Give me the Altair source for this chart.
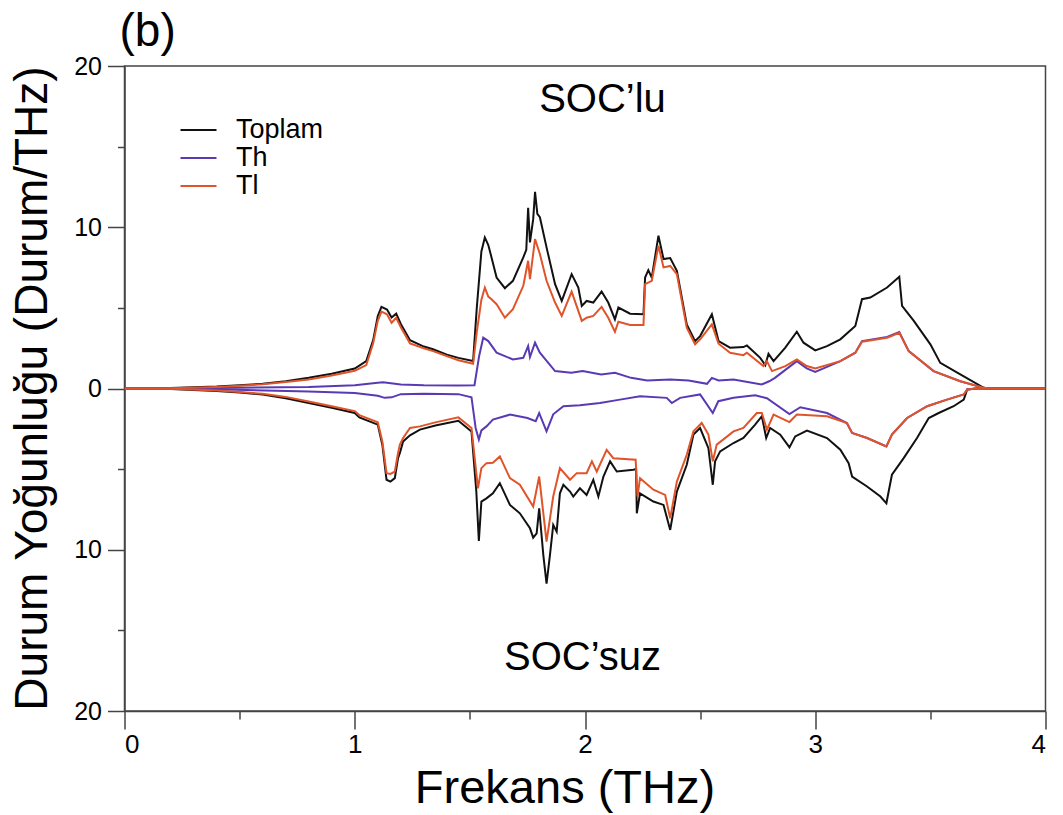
import altair as alt
import pandas as pd

# Phonon density of states of ThTl: upper half with spin-orbit coupling,
# lower half without (drawn mirrored below zero).

# ---- SOC'lu (with SOC), upper half ----
soc_total_f = [0, 0.2, 0.4, 0.5, 0.6, 0.7, 0.8, 0.9, 1.0, 1.05, 1.08, 1.10, 1.116, 1.14, 1.16, 1.18, 1.20,
               1.24, 1.30, 1.34, 1.40, 1.45, 1.514, 1.53, 1.55, 1.565, 1.58, 1.594, 1.616, 1.652, 1.687,
               1.732, 1.745, 1.753, 1.761, 1.775, 1.783, 1.793, 1.804, 1.833, 1.87, 1.899, 1.942, 1.971,
               1.986, 2.007, 2.036, 2.072, 2.101, 2.13, 2.145, 2.196, 2.254, 2.261, 2.275, 2.29, 2.319,
               2.341, 2.37, 2.399, 2.442, 2.478, 2.50, 2.551, 2.58, 2.63, 2.688, 2.703, 2.761, 2.783,
               2.797, 2.819, 2.87, 2.92, 2.949, 3.0, 3.051, 3.109, 3.174, 3.203, 3.239, 3.312, 3.365,
               3.377, 3.428, 3.5, 3.543, 3.63, 3.732, 3.75, 4.0]
soc_total_v = [0, 0.03, 0.12, 0.2, 0.3, 0.45, 0.66, 0.92, 1.24, 1.7, 3.0, 4.5, 5.06, 4.9, 4.4, 4.64, 4.0,
               3.0, 2.6, 2.43, 2.1, 1.9, 1.70, 5.0, 8.5, 9.37, 8.9, 8.13, 6.88, 6.22, 6.68,
               8.13, 8.6, 11.2, 9.06, 10.5, 12.2, 10.83, 10.62, 8.75, 6.47, 5.43, 7.09, 6.26,
               5.12, 5.43, 5.33, 6.01, 5.33, 4.29, 5.02, 4.64, 4.60, 6.88, 7.34, 6.88, 9.48,
               8.03, 8.09, 7.30, 3.98, 2.94, 3.25, 4.6, 2.94, 2.53, 2.57, 2.67, 1.90, 1.45,
               2.15, 1.70, 2.53, 3.52, 2.84, 2.36, 2.63, 3.05, 3.88, 5.54, 5.64, 6.26, 6.93,
               5.12, 4.19, 2.74, 1.59, 0.87, 0.04, 0, 0]

soc_th_f = [0, 0.4, 0.8, 1.0, 1.1, 1.123, 1.2, 1.3, 1.45, 1.52, 1.54, 1.558, 1.58, 1.616, 1.687, 1.732,
            1.753, 1.761, 1.783, 1.804, 1.87, 1.94, 1.99, 2.07, 2.13, 2.2, 2.27, 2.37, 2.45, 2.53, 2.551,
            2.58, 2.645, 2.767, 2.8, 2.825, 2.92, 2.963, 3.0, 3.109, 3.174, 3.203, 3.312, 3.365, 3.406,
            3.514, 3.63, 3.732, 3.75, 4.0]
soc_th_v = [0, 0.03, 0.1, 0.2, 0.35, 0.39, 0.25, 0.2, 0.18, 0.2, 2.0, 3.15, 2.94, 2.22, 1.80, 1.90,
            2.63, 1.95, 2.84, 2.22, 1.08, 0.97, 1.08, 0.87, 0.97, 0.66, 0.50, 0.56, 0.5, 0.29, 0.66,
            0.5, 0.56, 0.25, 0.45, 0.66, 1.70, 1.25, 1.03, 1.70, 2.22, 2.94, 3.2, 3.50, 2.32,
            1.08, 0.45, 0.04, 0, 0]

soc_tl_f = [0, 0.2, 0.4, 0.5, 0.6, 0.7, 0.8, 0.9, 1.0, 1.05, 1.08, 1.10, 1.116, 1.14, 1.16, 1.18, 1.20,
            1.24, 1.30, 1.34, 1.45, 1.514, 1.53, 1.55, 1.565, 1.58, 1.594, 1.616, 1.652, 1.687, 1.732,
            1.753, 1.761, 1.783, 1.804, 1.833, 1.87, 1.899, 1.942, 1.986, 2.007, 2.036, 2.072, 2.101,
            2.13, 2.145, 2.196, 2.254, 2.261, 2.29, 2.319, 2.341, 2.37, 2.399, 2.442, 2.478, 2.50,
            2.551, 2.58, 2.63, 2.688, 2.703, 2.775, 2.79, 2.812, 2.87, 2.92, 2.963, 3.0, 3.109, 3.174,
            3.203, 3.312, 3.365, 3.406, 3.514, 3.63, 3.732, 3.75, 4.0]
soc_tl_v = [0, 0.02, 0.1, 0.17, 0.26, 0.4, 0.56, 0.8, 1.1, 1.45, 2.8, 4.2, 4.77, 4.6, 4.08, 4.39, 3.8,
            2.8, 2.5, 2.32, 1.75, 1.53, 3.5, 5.5, 6.26, 5.7, 5.54, 5.23, 4.39, 4.92, 6.37,
            7.92, 6.78, 9.27, 8.34, 6.68, 5.33, 4.50, 6.01, 4.19, 4.39, 4.5, 5.06, 4.39,
            3.52, 4.14, 3.94, 3.94, 6.47, 6.68, 8.86, 7.51, 7.6, 7.09, 3.77, 2.74, 3.05,
            3.98, 2.78, 2.22, 2.07, 2.22, 1.39, 1.70, 1.08, 1.39, 1.80, 1.39, 1.24, 1.70, 2.22,
            2.90, 3.15, 3.46, 2.32, 1.08, 0.45, 0.04, 0, 0]

# ---- SOC'suz (without SOC), lower half, magnitudes ----
nosoc_total_f = [0, 0.2, 0.4, 0.5, 0.6, 0.7, 0.8, 0.9, 1.0, 1.02, 1.1, 1.12, 1.138, 1.155, 1.174, 1.188,
                 1.196, 1.21, 1.24, 1.283, 1.35, 1.45, 1.507, 1.528, 1.539, 1.55, 1.572, 1.60, 1.63,
                 1.674, 1.717, 1.761, 1.775, 1.79, 1.801, 1.819, 1.833, 1.848, 1.862, 1.877, 1.891,
                 1.906, 1.935, 1.949, 1.978, 2.007, 2.036, 2.058, 2.08, 2.109, 2.138, 2.21, 2.222,
                 2.225, 2.239, 2.297, 2.341, 2.37, 2.399, 2.442, 2.471, 2.50, 2.536, 2.555, 2.565,
                 2.587, 2.645, 2.688, 2.739, 2.768, 2.787, 2.804, 2.848, 2.888, 2.913, 2.964, 3.051,
                 3.109, 3.145, 3.16, 3.225, 3.283, 3.309, 3.333, 3.384, 3.442, 3.493, 3.536, 3.601,
                 3.645, 3.66, 3.7, 4.0]
nosoc_total_v = [0, 0.03, 0.15, 0.25, 0.38, 0.6, 0.9, 1.2, 1.52, 1.79, 2.24, 3.5, 5.66, 5.77, 5.56, 4.32,
                 4.0, 3.28, 2.9, 2.55, 2.3, 2.0, 2.66, 6.39, 9.46, 7.01, 6.81, 6.5, 5.87,
                 7.22, 7.74, 8.67, 9.25, 8.98, 7.43, 10.33, 12.1, 10.3, 8.46, 8.88, 6.5,
                 5.97, 6.39, 6.70, 6.19, 6.60, 5.66, 6.70, 5.46, 4.52, 5.15, 5.04, 5.0,
                 7.74, 6.5, 7.01, 7.22, 8.77, 6.39, 4.73, 2.86, 2.45, 3.7, 5.97, 4.52,
                 3.9, 3.38, 3.07, 2.24, 1.72, 3.07, 2.45, 2.86, 3.65, 2.97, 2.61, 3.07,
                 3.8, 4.63, 5.46, 6.08, 6.70, 7.12, 5.35, 4.32, 3.07, 1.83, 1.52, 1.10,
                 0.69, 0.06, 0, 0]

nosoc_th_f = [0, 0.4, 0.8, 1.0, 1.1, 1.13, 1.16, 1.2, 1.3, 1.45, 1.507, 1.525, 1.539, 1.55, 1.572, 1.60,
              1.674, 1.75, 1.786, 1.801, 1.833, 1.862, 1.906, 1.978, 2.065, 2.152, 2.239, 2.355, 2.377,
              2.413, 2.50, 2.555, 2.579, 2.645, 2.739, 2.79, 2.888, 2.935, 3.051, 3.137, 3.16, 3.225,
              3.309, 3.333, 3.399, 3.486, 3.572, 3.645, 3.66, 3.7, 4.0]
nosoc_th_v = [0, 0.05, 0.18, 0.28, 0.45, 0.58, 0.55, 0.35, 0.33, 0.35, 0.54, 2.45, 3.17, 2.6, 2.35, 1.93,
              1.62, 1.83, 2.03, 1.52, 2.66, 1.6, 1.10, 1.04, 0.9, 0.69, 0.48, 0.58, 0.9,
              0.58, 0.37, 1.52, 0.79, 0.58, 0.42, 0.6, 1.58, 1.16, 1.52, 2.14, 2.76, 3.07,
              3.59, 2.86, 1.83, 1.10, 0.69, 0.37, 0.06, 0, 0]

nosoc_tl_f = [0, 0.2, 0.4, 0.5, 0.6, 0.7, 0.8, 0.9, 1.0, 1.02, 1.1, 1.12, 1.138, 1.155, 1.174, 1.188,
              1.196, 1.21, 1.24, 1.283, 1.35, 1.45, 1.507, 1.535, 1.55, 1.572, 1.60, 1.63, 1.674, 1.717,
              1.775, 1.801, 1.833, 1.862, 1.891, 1.935, 1.964, 2.007, 2.03, 2.051, 2.094, 2.123, 2.22,
              2.228, 2.239, 2.297, 2.348, 2.37, 2.399, 2.442, 2.471, 2.507, 2.536, 2.555, 2.572,
              2.645, 2.688, 2.746, 2.768, 2.79, 2.819, 2.888, 2.92, 3.051, 3.138, 3.16, 3.225, 3.309,
              3.333, 3.399, 3.486, 3.572, 3.645, 3.66, 3.7, 4.0]
nosoc_tl_v = [0, 0.02, 0.12, 0.22, 0.33, 0.52, 0.8, 1.1, 1.4, 1.65, 2.1, 3.3, 5.25, 5.3, 5.15, 4.0,
              3.48, 3.07, 2.45, 2.35, 2.1, 1.79, 2.45, 6.19, 4.94, 4.63, 4.6, 4.21, 5.56, 5.97,
              7.32, 5.46, 9.5, 6.7, 4.94, 5.66, 5.25, 5.25, 4.52, 5.15, 3.80, 4.32, 4.42,
              6.70, 5.56, 6.28, 6.60, 8.05, 5.77, 4.11, 2.66, 2.14, 2.86, 4.52, 3.48,
              2.66, 2.45, 1.52, 1.52, 2.55, 1.62, 2.08, 1.62, 1.72, 2.14, 2.76, 3.07, 3.59,
              2.86, 1.83, 1.10, 0.69, 0.37, 0.06, 0, 0]

series_names = ["Toplam", "Th", "Tl"]
series_colors = ["#111111", "#5a3ab4", "#e0542a"]

x_ticks = [0, 0.5, 1, 1.5, 2, 2.5, 3, 3.5, 4]
y_ticks = [-20, -15, -10, -5, 0, 5, 10, 15, 20]


def frame(freqs, values, name, part, sign):
    return pd.DataFrame({
        "freq": freqs,
        "dos": [sign * v for v in values],
        "series": name,
        "part": part,
    })


df = pd.concat([
    frame(soc_total_f, soc_total_v, "Toplam", "soc", 1),
    frame(nosoc_total_f, nosoc_total_v, "Toplam", "nosoc", -1),
    frame(soc_th_f, soc_th_v, "Th", "soc", 1),
    frame(nosoc_th_f, nosoc_th_v, "Th", "nosoc", -1),
    frame(soc_tl_f, soc_tl_v, "Tl", "soc", 1),
    frame(nosoc_tl_f, nosoc_tl_v, "Tl", "nosoc", -1),
], ignore_index=True)

FONT = "Liberation Sans"

x_enc = alt.X(
    "freq:Q",
    scale=alt.Scale(domain=[0, 4], nice=False),
    axis=alt.Axis(
        values=x_ticks,
        labelExpr="datum.value % 1 === 0 ? format(datum.value, 'd') : ''",
        tickSize={"condition": {"test": "datum.value % 1 === 0", "value": 18}, "value": 8},
        labelPadding=2,
        labelFontSize=26,
        title="Frekans (THz)",
        titleFontSize=47,
        titleFontWeight="normal",
        titleX=440,
        titleY=91,
        titleAlign="center",
        titleBaseline="alphabetic",
        grid=False,
    ),
)

y_enc = alt.Y(
    "dos:Q",
    scale=alt.Scale(domain=[-20, 20], nice=False),
    axis=alt.Axis(
        values=y_ticks,
        labelExpr="datum.value % 10 === 0 ? abs(datum.value) : ''",
        tickSize={"condition": {"test": "datum.value % 10 === 0", "value": 17}, "value": 7},
        labelPadding=6,
        labelFontSize=25,
        title="Durum Yoğunluğu (Durum/THz)",
        titleFontSize=46,
        titleFontWeight="normal",
        titleAngle=-90,
        titleX=-78,
        titleY=322,
        titleAlign="center",
        titleBaseline="alphabetic",
        grid=False,
    ),
)

color_enc = alt.Color(
    "series:N",
    scale=alt.Scale(domain=series_names, range=series_colors),
    legend=alt.Legend(
        title=None,
        orient="none",
        legendX=60.5,
        legendY=50.5,
        symbolType="M-1.5,0H1.5",
        symbolSize=576,
        symbolStrokeWidth=2,
        symbolFillColor="transparent",
        labelFontSize=27,
        labelOffset=24,
        rowPadding=0,
        padding=0,
    ),
)

layers = []
for name in series_names:
    layers.append(
        alt.Chart(df)
        .transform_filter(alt.datum.series == name)
        .mark_line(strokeWidth=2, clip=True)
        .encode(x=x_enc, y=y_enc, color=color_enc, detail="part:N", order="freq:Q")
    )

# in-plot annotations
label_soc = alt.Chart(pd.DataFrame({"t": ["SOC’lu"]})).mark_text(
    fontSize=40, font=FONT, align="center", baseline="alphabetic", color="black"
).encode(text="t:N", x=alt.value(478), y=alt.value(46))

label_nosoc = alt.Chart(pd.DataFrame({"t": ["SOC’suz"]})).mark_text(
    fontSize=40, font=FONT, align="center", baseline="alphabetic", color="black"
).encode(text="t:N", x=alt.value(458), y=alt.value(604))

panel_tag = alt.Chart(pd.DataFrame({"t": ["(b)"]})).mark_text(
    fontSize=46, font=FONT, align="left", baseline="alphabetic", color="black"
).encode(text="t:N", x=alt.value(-5), y=alt.value(-20))

chart = (
    alt.layer(*layers, label_soc, label_nosoc, panel_tag)
    .properties(
        width=921,
        height=645,
        autosize=alt.AutoSizeParams(type="none"),
        padding={"left": 124.5, "top": 66, "right": 17.5, "bottom": 104},
        background="white",
    )
    .configure_view(stroke="#444444", strokeWidth=1.5)
    .configure_axis(
        domainColor="#444444",
        domainWidth=1.5,
        tickColor="#444444",
        tickWidth=1.5,
        labelColor="black",
        titleColor="black",
        labelFont=FONT,
        titleFont=FONT,
    )
    .configure_legend(labelFont=FONT, labelColor="black")
)

chart.save("out.html", embed_options={"renderer": "svg", "actions": False})
